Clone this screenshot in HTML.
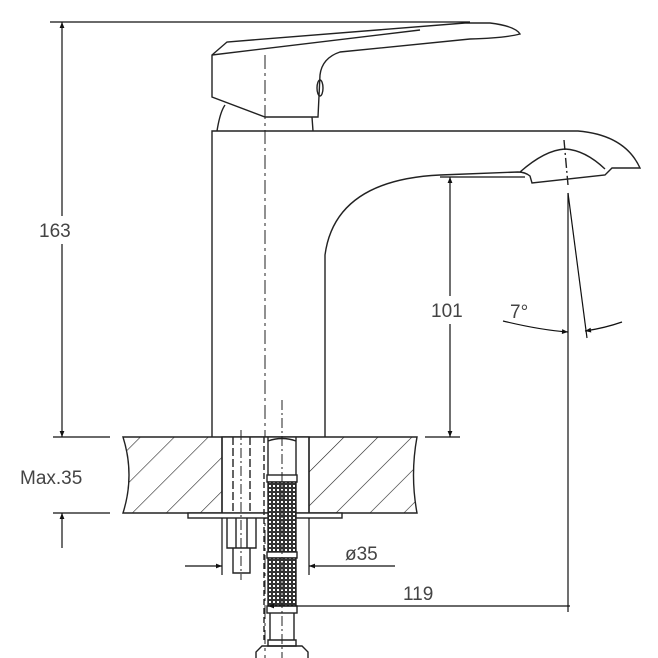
<!DOCTYPE html>
<html><head><meta charset="utf-8"><style>
html,body{margin:0;padding:0;background:#fff}
svg{display:block}
text{font-family:"Liberation Sans",sans-serif;fill:#444;font-size:19px}
</style></head><body>
<svg width="658" height="658" viewBox="0 0 658 658" xmlns="http://www.w3.org/2000/svg">
<defs>
<pattern id="mesh" width="4" height="4" patternUnits="userSpaceOnUse">
<rect width="4" height="4" fill="#333"/><rect x="1" y="1" width="2" height="2" fill="#fff"/>
</pattern>
<pattern id="hatch" width="24" height="24" patternUnits="userSpaceOnUse" patternTransform="rotate(45)">
<line x1="0" y1="0" x2="0" y2="24" stroke="#222" stroke-width="1.2"/>
</pattern>
<marker id="ar" viewBox="0 0 10 10" refX="10" refY="5" markerWidth="14" markerHeight="6" markerUnits="userSpaceOnUse" orient="auto-start-reverse"><path d="M0,1 L10,5 L0,9z" fill="#111"/></marker>
</defs>
<g fill="none" stroke="#222" stroke-width="1.4">
<path d="M212,55 L227,42 L465,23 L490,23 Q515,26 520,34 Q505,38 470,39 L340,52 Q322,58 320,75 L318,117 L265,117 L212,97 Z" fill="#fff"/>
<path d="M212,55 L420,30" />
<ellipse cx="320" cy="88" rx="3" ry="8"/>
<path d="M217,131 Q220,112 225,105 M313,131 L312,117"/>
<path d="M212,437 L212,131 L578,131 Q625,135 640,168 L612,168 L605,175 L532,183 L530,176 Q525,172 518,172 L440,175 Q335,180 325,255 L325,437"/>
<path d="M520,172 Q545,150 565,149 Q585,150 605,169"/>
<path d="M564,140 L568,185" stroke-dasharray="10,3,2,3"/>
<path d="M265,55 L265,658" stroke-dasharray="14,4,3,4" stroke-width="1"/>
<path d="M123,437 L417,437 Q410,475 417,513 L123,513 Q135,475 123,437 Z" fill="url(#hatch)"/>
<rect x="222" y="437" width="87" height="76" fill="#fff"/>
<path d="M222,437 L222,513 M309,437 L309,513"/>
<rect x="188" y="513" width="154" height="5" fill="#fff"/>
<path d="M233,437 L233,513 M250,437 L250,513" stroke-dasharray="8,3"/>
<path d="M241,430 L241,580" stroke-dasharray="10,3,2,3" stroke-width="1"/>
<path d="M227,518 L227,548 L256,548 L256,518 M233,548 L233,573 L250,573 L250,548 M236,518 L236,548 M247,518 L247,548"/>
<path d="M268,437 L268,475 M296,437 L296,475 M268,441 Q282,436 296,441"/>
<rect x="267" y="475" width="30" height="7" fill="#fff"/>
<rect x="268" y="482" width="28" height="70" fill="url(#mesh)"/>
<rect x="267" y="552" width="30" height="6" fill="#fff"/>
<rect x="268" y="558" width="28" height="48" fill="url(#mesh)"/>
<rect x="267" y="606" width="30" height="7" fill="#fff"/>
<path d="M270,613 L270,640 M294,613 L294,640 M268,640 L296,640 L296,646 L268,646Z"/>
<path d="M256,658 L256,652 L262,646 L302,646 L308,652 L308,658"/>
<path d="M282,400 L282,658" stroke-dasharray="10,3,2,3" stroke-width="1"/>
<path d="M264,437 L264,640" stroke-dasharray="6,3"/>
</g>
<g stroke="#111" stroke-width="1.2" fill="none">
<line x1="50" y1="22" x2="470" y2="22"/>
<line x1="62" y1="22" x2="62" y2="437" marker-start="url(#ar)" marker-end="url(#ar)"/>
<line x1="53" y1="437" x2="110" y2="437"/>
<line x1="53" y1="513" x2="110" y2="513"/>
<line x1="62" y1="513" x2="62" y2="548" marker-start="url(#ar)"/>
<line x1="440" y1="177" x2="525" y2="177"/>
<line x1="425" y1="437" x2="460" y2="437"/>
<line x1="450" y1="177" x2="450" y2="437" marker-start="url(#ar)" marker-end="url(#ar)"/>
<line x1="568" y1="193" x2="568" y2="612"/>
<line x1="568" y1="193" x2="587" y2="338"/>
<path d="M503,321 Q540,330 568,332" marker-end="url(#ar)"/>
<path d="M622,322 Q605,328 585,331" marker-end="url(#ar)"/>
<line x1="222" y1="518" x2="222" y2="575"/>
<line x1="309" y1="518" x2="309" y2="575"/>
<line x1="185" y1="566" x2="222" y2="566" marker-end="url(#ar)"/>
<line x1="395" y1="566" x2="309" y2="566" marker-end="url(#ar)"/>
<line x1="570" y1="606" x2="268" y2="606" marker-end="url(#ar)"/>
</g>
<rect x="36" y="216" width="50" height="28" fill="#fff"/>
<text x="39" y="237">163</text>
<rect x="428" y="296" width="44" height="28" fill="#fff"/>
<text x="431" y="317">101</text>
<text x="510" y="318">7°</text>
<text x="20" y="484">Max.35</text>
<text x="345" y="560">ø35</text>
<text x="403" y="600">119</text>
</svg>
</body></html>
